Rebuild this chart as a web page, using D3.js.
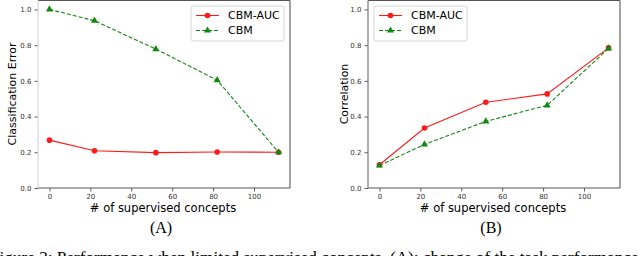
<!DOCTYPE html>
<html>
<head>
<meta charset="utf-8">
<script src="https://cdn.jsdelivr.net/npm/d3@7"></script>
<style>
  body { margin: 0; background: #fff; }
  svg { display: block; }
</style>
</head>
<body>
<div id="chart"></div>
<script>
const width = 640;
const height = 256;

// data
const concepts = [0, 22, 52, 82, 112];
const errAUC = [0.268, 0.209, 0.198, 0.202, 0.200];
const errCBM = [1.0, 0.937, 0.778, 0.604, 0.200];
const corrAUC = [0.130, 0.336, 0.480, 0.527, 0.785];
const corrCBM = [0.126, 0.244, 0.373, 0.463, 0.782];
const xTicks = [0, 20, 40, 60, 80, 100];
const yTicks = [0.0, 0.2, 0.4, 0.6, 0.8, 1.0];
const seriesNames = ["CBM-AUC", "CBM"];

const svg = d3.select("#chart").append("svg")
    .attr("width", width)
    .attr("height", height);

const panels = [
    {left: 38, right: 290, ylabel: "Classification Error", tag: "(A)", a: errAUC, b: errCBM,
     legendX: 191, leftSpine: "#d8d8d8", ylabelX: 12},
    {left: 368, right: 620, ylabel: "Correlation", tag: "(B)", a: corrAUC, b: corrCBM,
     legendX: 374, leftSpine: "#777", ylabelX: 344}
];

const plotTop = 0.5, plotBottom = 188;

panels.forEach(p => {
    const x = d3.scaleLinear().domain([-5.6, 117.6]).range([p.left, p.right]);
    const y = d3.scaleLinear().domain([0, 1.05]).range([plotBottom, plotTop]);
    const g = svg.append("g");

    // axes
    g.append("g")
        .attr("transform", `translate(0,${plotBottom})`)
        .call(d3.axisBottom(x).tickValues(xTicks).tickSize(3.5).tickPadding(3).tickFormat(d3.format("d")))
        .call(a => a.select(".domain").remove())
        .call(a => a.selectAll("line").attr("stroke", "#333").attr("stroke-width", 0.8))
        .call(a => a.selectAll("text").attr("font-family", "DejaVu Sans").attr("font-size", 7).attr("fill", "#333"));

    g.append("g")
        .attr("transform", `translate(${p.left},0)`)
        .call(d3.axisLeft(y).tickValues(yTicks).tickSize(3.5).tickPadding(3).tickFormat(d3.format(".1f")))
        .call(a => a.select(".domain").remove())
        .call(a => a.selectAll("line").attr("stroke", "#333").attr("stroke-width", 0.8))
        .call(a => a.selectAll("text").attr("font-family", "DejaVu Sans").attr("font-size", 7).attr("fill", "#333"));

    // spines
    g.append("line").attr("x1", p.left).attr("x2", p.right).attr("y1", plotBottom).attr("y2", plotBottom)
        .attr("stroke", "#555").attr("stroke-width", 1.2);
    g.append("line").attr("x1", p.left).attr("x2", p.right).attr("y1", plotTop).attr("y2", plotTop)
        .attr("stroke", "#555").attr("stroke-width", 1.2);
    g.append("line").attr("x1", p.right).attr("x2", p.right).attr("y1", plotTop).attr("y2", plotBottom)
        .attr("stroke", "#666").attr("stroke-width", 1.2);
    g.append("line").attr("x1", p.left).attr("x2", p.left).attr("y1", plotTop).attr("y2", plotBottom)
        .attr("stroke", p.leftSpine).attr("stroke-width", 1.2);

    const line = d3.line().x((d, i) => x(concepts[i])).y(d => y(d));

    // CBM (green dashed, triangles)
    g.append("path").datum(p.b).attr("d", line)
        .attr("fill", "none").attr("stroke", "#118811").attr("stroke-width", 1.1)
        .attr("stroke-dasharray", "4,2");
    // CBM-AUC (red solid, circles)
    g.append("path").datum(p.a).attr("d", line)
        .attr("fill", "none").attr("stroke", "#ff1a1a").attr("stroke-width", 1.1);
    g.selectAll("circle.auc").data(p.a).join("circle")
        .attr("class", "auc")
        .attr("cx", (d, i) => x(concepts[i])).attr("cy", d => y(d))
        .attr("r", 2.8).attr("fill", "#ff1a1a");
    const tri = d3.symbol().type(d3.symbolTriangle).size(22);
    g.selectAll("path.cbm").data(p.b).join("path")
        .attr("class", "cbm")
        .attr("d", tri)
        .attr("transform", (d, i) => `translate(${x(concepts[i])},${y(d)})`)
        .attr("fill", "#118811");

    // labels
    g.append("text")
        .attr("x", (p.left + p.right) / 2 - 1).attr("y", 211.5)
        .attr("text-anchor", "middle")
        .attr("font-family", "DejaVu Sans").attr("font-size", 11.5)
        .text("# of supervised concepts");
    g.append("text")
        .attr("transform", `translate(${p.ylabelX},94) rotate(-90)`)
        .attr("text-anchor", "middle")
        .attr("dominant-baseline", "central")
        .attr("font-family", "DejaVu Sans").attr("font-size", 11)
        .text(p.ylabel);
    g.append("text")
        .attr("x", (p.left + p.right) / 2 - 3).attr("y", 233)
        .attr("text-anchor", "middle")
        .attr("font-family", "Liberation Serif").attr("font-size", 16)
        .text(p.tag);

    // legend
    const lg = g.append("g").attr("transform", `translate(${p.legendX},6)`);
    lg.append("rect").attr("width", 93).attr("height", 35).attr("rx", 2)
        .attr("fill", "#fff").attr("stroke", "#ccc").attr("stroke-width", 0.8);
    seriesNames.forEach((name, i) => {
        const ly = 9.5 + i * 15;
        lg.append("line").attr("x1", 5).attr("x2", 28).attr("y1", ly).attr("y2", ly)
            .attr("stroke", i === 0 ? "#ff1a1a" : "#118811").attr("stroke-width", 1.1)
            .attr("stroke-dasharray", i === 0 ? null : "4,2");
        if (i === 0) {
            lg.append("circle").attr("cx", 16.5).attr("cy", ly).attr("r", 2.8).attr("fill", "#ff1a1a");
        } else {
            lg.append("path").attr("d", tri).attr("transform", `translate(16.5,${ly})`).attr("fill", "#118811");
        }
        lg.append("text").attr("x", 37).attr("y", ly).attr("dominant-baseline", "central")
            .attr("font-family", "DejaVu Sans").attr("font-size", 11)
            .text(name);
    });
});

// caption (cut off at bottom)
svg.append("text")
    .attr("x", -10).attr("y", 263)
    .attr("font-family", "Liberation Serif").attr("font-size", 17.2)
    .text("Figure 2: Performance when limited supervised concepts. (A): change of the task performance");
</script>
</body>
</html>
